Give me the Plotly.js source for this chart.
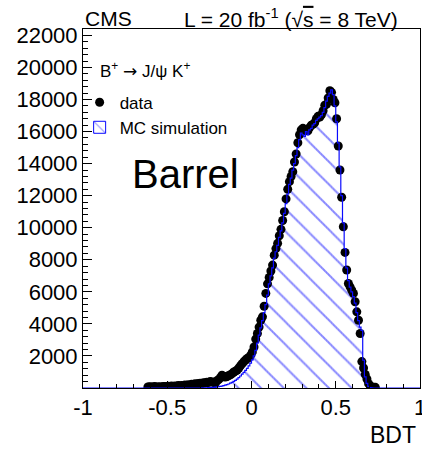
<!DOCTYPE html>
<html>
<head>
<meta charset="utf-8">
<script src="https://cdn.plot.ly/plotly-3.0.1.min.js"></script>
<style>
  html, body { margin: 0; padding: 0; background: #fff; }
  #chart { width: 422px; height: 451px; }
</style>
</head>
<body>
<div id="chart"></div>
<script>
// BDT bin centres (bin width 0.01)
const bdt = [
  -0.615,-0.605,-0.595,-0.585,-0.575,-0.565,-0.555,-0.545,-0.535,-0.525,
  -0.515,-0.505,-0.495,-0.485,-0.475,-0.465,-0.455,-0.445,-0.435,-0.425,
  -0.415,-0.405,-0.395,-0.385,-0.375,-0.365,-0.355,-0.345,-0.335,-0.325,
  -0.315,-0.305,-0.295,-0.285,-0.275,-0.265,-0.255,-0.245,-0.235,-0.225,
  -0.215,-0.205,-0.195,-0.185,-0.175,-0.165,-0.155,-0.145,-0.135,-0.125,
  -0.115,-0.105,-0.095,-0.085,-0.075,-0.065,-0.055,-0.045,-0.035,-0.025,
  -0.015,-0.005,0.005,0.015,0.025,0.035,0.045,0.055,0.065,0.075,
  0.085,0.095,0.105,0.115,0.125,0.135,0.145,0.155,0.165,0.175,
  0.185,0.195,0.205,0.215,0.225,0.235,0.245,0.255,0.265,0.275,
  0.285,0.295,0.305,0.315,0.325,0.335,0.345,0.355,0.365,0.375,
  0.385,0.395,0.405,0.415,0.425,0.435,0.445,0.455,0.465,0.475,
  0.485,0.495,0.505,0.515,0.525,0.535,0.545,0.555,0.565,0.575,
  0.585,0.595,0.605,0.615,0.625,0.635,0.645,0.655,0.665,0.675,
  0.685,0.695,0.705,0.715,0.725,0.735
];

// Data counts per bin
const dataCounts = [
  60,80,70,60,90,70,60,80,50,100,
  90,80,110,100,120,90,130,110,150,130,
  160,140,180,160,200,170,230,210,260,240,
  280,300,270,330,310,360,340,400,380,360,
  300,450,520,650,800,700,680,720,780,820,
  900,1000,1050,1120,1250,1400,1520,1650,1750,1840,
  1900,2050,2250,2560,3050,3400,3800,4230,4440,5100,
  5900,6500,6900,7300,7670,8290,8700,9025,9500,9900,
  10450,11000,11800,12400,12875,13200,13500,14100,14600,15300,
  15800,16100,16200,16050,16150,16050,16250,16400,16450,16550,
  16800,16950,16900,17050,17300,17650,17700,18100,18550,18450,
  18000,17800,16800,15100,13600,11900,10060,8460,7360,6520,
  6310,6100,5900,5380,4750,4230,3400,1650,1250,850,
  560,270,120,70,50,40
];

// MC simulation counts per bin
const mcCounts = [
  0,0,0,0,0,0,0,0,0,0,
  0,0,0,0,0,0,0,0,0,0,
  0,0,0,0,0,0,0,0,0,0,
  0,0,5,8,10,15,20,25,35,45,
  55,70,85,100,120,145,175,210,250,300,
  350,410,480,560,650,750,860,980,1100,1230,
  1380,1550,1750,2000,2350,2800,3300,3750,4200,4700,
  5200,5800,6500,7000,7500,8100,8500,8900,9400,9800,
  10300,10900,11500,12100,12700,13100,13600,14000,14500,15000,
  15500,15900,15800,15700,16000,15800,16100,16200,16400,16500,
  16700,16800,16900,17000,17200,17500,17900,18200,18400,18600,
  18300,17600,16600,15300,13800,12000,10300,8700,7500,6700,
  6300,6000,5700,5300,4700,4200,3800,3600,1730,690,
  290,100,30,10,0,0
];

const binWidth = 0.01;
const xRange = [-1, 1];
const yRange = [0, 22400];
const yTickVals = [2000,4000,6000,8000,10000,12000,14000,16000,18000,20000,22000];
const yTickText = ['2000','4000','6000','8000','10000','12000','14000','16000','18000','20000','22000'];
const xTickVals = [-1,-0.5,0,0.5,1];
const xTickText = ['-1','-0.5','0','0.5','1'];

// MC outline spans the full axis range with empty bins at both ends
const mcLineX = [xRange[0]].concat(bdt, [xRange[1]]);
const mcLineY = [0].concat(mcCounts, [0]);

const FONT = 'Liberation Sans, Arial, Helvetica, sans-serif';
const BLUE = '#0a0aff';

// only the first (empty) bin carries an outline, so the legend box gets a blue frame
const mcBarLineWidth = bdt.map((_, i) => (i === 0 ? 1 : 0));

const traces = [
  {
    type: 'bar',
    name: 'MC simulation',
    x: bdt,
    y: mcCounts,
    width: binWidth,
    marker: {
      color: 'rgba(0,0,0,0)',
      line: { width: mcBarLineWidth, color: BLUE },
      pattern: { shape: '\\', fgcolor: BLUE, bgcolor: 'rgba(0,0,0,0)', size: 16, solidity: 0.12, fillmode: 'overlay' }
    },
    legendrank: 2,
    hoverinfo: 'skip'
  },
  {
    type: 'scatter',
    mode: 'markers',
    name: 'data',
    x: bdt,
    y: dataCounts,
    marker: { color: 'black', size: 9, symbol: 'circle' },
    legendrank: 1
  },
  {
    type: 'scatter',
    mode: 'lines',
    x: mcLineX,
    y: mcLineY,
    line: { color: BLUE, width: 1.2, shape: 'hvh' },
    showlegend: false,
    hoverinfo: 'skip'
  }
];

const layout = {
  width: 422,
  height: 451,
  margin: { l: 83, r: 2, t: 29, b: 63 },
  paper_bgcolor: 'white',
  plot_bgcolor: 'white',
  bargap: 0,
  showlegend: true,
  font: { family: FONT, color: 'black' },
  xaxis: {
    range: xRange,
    tickvals: xTickVals,
    ticktext: xTickText,
    ticklabeloverflow: 'allow',
    ticks: 'inside',
    ticklen: 7,
    tickwidth: 1,
    tickcolor: 'black',
    minor: { ticks: 'inside', dtick: 0.1, ticklen: 4, tickcolor: 'black' },
    showline: true,
    linecolor: 'black',
    linewidth: 1,
    mirror: true,
    showgrid: false,
    zeroline: false,
    tickfont: { family: FONT, size: 22, color: 'black' }
  },
  yaxis: {
    range: yRange,
    tickvals: yTickVals,
    ticktext: yTickText,
    ticks: 'inside',
    ticklen: 9,
    tickwidth: 1,
    tickcolor: 'black',
    minor: { ticks: 'inside', dtick: 400, ticklen: 4.5, tickcolor: 'black' },
    showline: true,
    linecolor: 'black',
    linewidth: 1,
    mirror: true,
    showgrid: false,
    zeroline: false,
    tickfont: { family: FONT, size: 22, color: 'black' }
  },
  legend: {
    x: -0.01,
    y: 0.845,
    xanchor: 'left',
    yanchor: 'top',
    bgcolor: 'rgba(0,0,0,0)',
    font: { family: FONT, size: 17, color: 'black' },
    itemwidth: 30,
    tracegroupgap: 0
  },
  annotations: [
    { text: 'CMS', xref: 'paper', yref: 'paper', x: 0, y: 1.03, xanchor: 'left', yanchor: 'middle',
      showarrow: false, font: { family: FONT, size: 21, color: 'black' } },
    { text: "L = 20 fb<sup>-1</sup> (√<span style='text-decoration:overline'>s</span> = 8 TeV)",
      xref: 'paper', yref: 'paper', x: 0.941, y: 1.03, xanchor: 'right', yanchor: 'middle',
      showarrow: false, font: { family: FONT, size: 21, color: 'black' } },
    { text: "B<sup>+</sup> <span style='font-family:DejaVu Sans'>→</span> J/ψ K<sup>+</sup>", xref: 'paper', yref: 'paper', x: 0.044, y: 0.886,
      xanchor: 'left', yanchor: 'middle', showarrow: false, font: { family: FONT, size: 17, color: 'black' } },
    { text: 'Barrel', xref: 'paper', yref: 'paper', x: 0.139, y: 0.596, xanchor: 'left', yanchor: 'middle',
      showarrow: false, font: { family: FONT, size: 40, color: 'black' } },
    { text: 'BDT', xref: 'paper', yref: 'paper', x: 0.994, y: -0.131, xanchor: 'right', yanchor: 'middle',
      showarrow: false, font: { family: FONT, size: 23, color: 'black' } }
  ]
};

Plotly.newPlot('chart', traces, layout, { staticPlot: true, displayModeBar: false });
</script>
</body>
</html>
